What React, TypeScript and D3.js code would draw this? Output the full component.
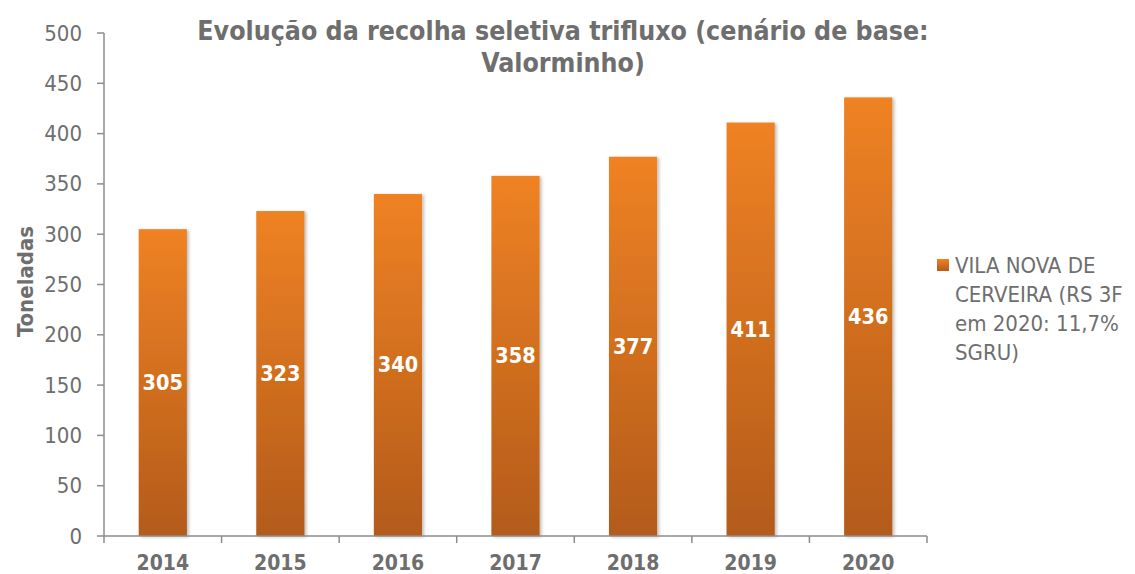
import * as d3 from 'd3';

const years = ['2014', '2015', '2016', '2017', '2018', '2019', '2020'];
const values = [305, 323, 340, 358, 377, 411, 436];
const yTicks = [0, 50, 100, 150, 200, 250, 300, 350, 400, 450, 500];
const titleLines = ['Evolução da recolha seletiva trifluxo (cenário de base:', 'Valorminho)'];
const legendLines = ['VILA NOVA DE', 'CERVEIRA (RS 3F', 'em 2020: 11,7%', 'SGRU)'];

const WIDTH = 1135;
const HEIGHT = 574;
const MARGIN = { top: 33, left: 104, right: 208, bottom: 38 };
const FONT = '"DejaVu Sans Condensed", "DejaVu Sans", sans-serif';
const GRAY = '#6e6e6e';
const AXIS = '#8c8c8c';

export default function App() {
  const x = d3
    .scaleBand()
    .domain(years)
    .range([MARGIN.left, WIDTH - MARGIN.right])
    .paddingInner(0.59)
    .paddingOuter(0.295);
  const y = d3
    .scaleLinear()
    .domain([0, 500])
    .range([HEIGHT - MARGIN.bottom, MARGIN.top]);

  const step = x.step();
  const x0 = MARGIN.left;
  const x1 = WIDTH - MARGIN.right;

  return (
    <svg
      width={WIDTH}
      height={HEIGHT}
      style={{ position: 'absolute', left: 0, top: 0 }}
      fontFamily={FONT}
    >
      <defs>
        <linearGradient id="barFill" x1="0" y1="0" x2="0" y2="1">
          <stop offset="0%" stopColor="#ef8224" />
          <stop offset="100%" stopColor="#b35b1a" />
        </linearGradient>
        <filter id="shadow" x="-20%" y="-5%" width="140%" height="110%">
          <feDropShadow dx="2" dy="1" stdDeviation="1.5" floodColor="#000" floodOpacity="0.25" />
        </filter>
      </defs>

      {/* title */}
      <text x={563} y={39.5} textAnchor="middle" fontSize={26.5} fontWeight="bold" fill={GRAY}>
        {titleLines.map((t, i) => (
          <tspan key={i} x={563} dy={i === 0 ? 0 : 32.5}>
            {t}
          </tspan>
        ))}
      </text>

      {/* y axis */}
      <line x1={x0} x2={x0} y1={y(500)} y2={y(0)} stroke={AXIS} strokeWidth={1.5} />
      {yTicks.map((t) => (
        <g key={t}>
          <line x1={x0 - 7} x2={x0} y1={y(t)} y2={y(t)} stroke={AXIS} strokeWidth={1.5} />
          <text
            x={82}
            y={y(t)}
            textAnchor="end"
            dominantBaseline="central"
            fontSize={22}
            fill={GRAY}
          >
            {t}
          </text>
        </g>
      ))}
      <text
        transform={`translate(33,${y(250) - 3}) rotate(-90)`}
        textAnchor="middle"
        fontSize={22}
        fontWeight="bold"
        fill={GRAY}
      >
        Toneladas
      </text>

      {/* bars */}
      {years.map((yr, i) => {
        const bx = x(yr) as number;
        return (
          <g key={yr}>
            <rect
              x={bx}
              y={y(values[i])}
              width={x.bandwidth()}
              height={y(0) - y(values[i])}
              fill="url(#barFill)"
              filter="url(#shadow)"
            />
            <text
              x={bx + x.bandwidth() / 2}
              y={(y(values[i]) + y(0)) / 2}
              textAnchor="middle"
              dominantBaseline="central"
              fontSize={21.5}
              fontWeight="bold"
              fill="#fff"
            >
              {values[i]}
            </text>
          </g>
        );
      })}

      {/* x axis */}
      <line x1={x0} x2={x1} y1={y(0)} y2={y(0)} stroke={AXIS} strokeWidth={1.5} />
      {d3.range(years.length + 1).map((i) => (
        <line
          key={i}
          x1={x0 + i * step}
          x2={x0 + i * step}
          y1={y(0)}
          y2={y(0) + 7}
          stroke={AXIS}
          strokeWidth={1.5}
        />
      ))}
      {years.map((yr) => (
        <text
          key={yr}
          x={(x(yr) as number) + x.bandwidth() / 2}
          y={570}
          textAnchor="middle"
          fontSize={21}
          fontWeight="bold"
          fill={GRAY}
        >
          {yr}
        </text>
      ))}

      {/* legend */}
      <rect x={937} y={259} width={12} height={12} fill="url(#barFill)" />
      <text fontSize={22} fill={GRAY}>
        {legendLines.map((t, i) => (
          <tspan key={i} x={955} y={273 + i * 29}>
            {t}
          </tspan>
        ))}
      </text>
    </svg>
  );
}
